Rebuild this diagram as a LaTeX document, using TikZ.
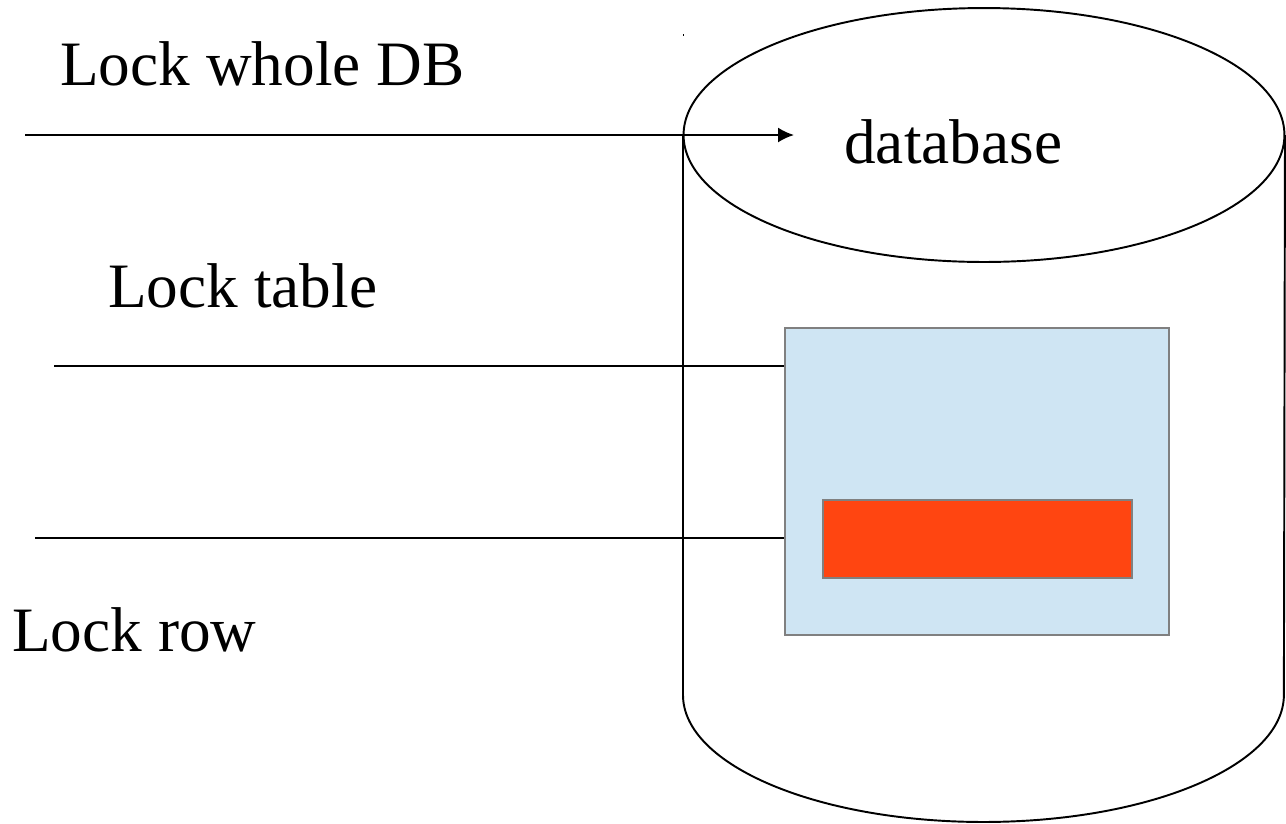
\documentclass[tikz,border=0pt]{standalone}
\usepackage{fontspec}
\setmainfont{Liberation Serif}
\usepackage{tikz}
\usetikzlibrary{positioning, arrows.meta}
\definecolor{tablefill}{RGB}{207,229,243}
\definecolor{rowfill}{RGB}{255,69,17}
\definecolor{boxline}{RGB}{128,128,128}
\tikzset{
  lbl/.style={inner sep=0pt, anchor=base west, font=\fontsize{36}{43}\selectfont},
  lockline/.style={line width=1.1pt},
  box/.style={draw=boxline, line width=0.9pt, inner sep=0pt, anchor=north west}
}

\begin{document}
\begin{tikzpicture}[x=0.02cm, y=-0.02cm]
\useasboundingbox (0,0) rectangle (1286,823);

%cylinder
\draw[line width=1.1pt] (984,135) ellipse [x radius=6.01cm, y radius=2.54cm];
\draw[line width=1.1pt] (683,135) -- (683,695)
  arc[start angle=180, end angle=360, x radius=6.01cm, y radius=2.54cm] -- (1285,135);
\fill (682.5,34) rectangle (684,36);

%table and row
\node[box, fill=tablefill, minimum width=7.68cm, minimum height=6.14cm] (tbl) at (784,327) {};
\node[box, fill=rowfill, minimum width=6.18cm, minimum height=1.56cm] (row) at (822,499) {};

%labels
\node[lbl] (whole) at (60,85) {Lock whole DB};
\node[lbl] (db) at (844,163) {database};
\node[lbl] (table) at (108,307) {Lock table};
\node[lbl] (rowlbl) at (12,651) {Lock row};

%lock lines
\coordinate (s1) at (25,135);
\coordinate (e1) at (794,135);
\coordinate (s2) at (54,366);
\coordinate (s3) at (35,538);
\draw[lockline, -{Latex[length=0.32cm, width=0.3cm]}] (s1) -- (e1);
\draw[lockline] (s2) -- (s2 -| tbl.west);
\draw[lockline] (s3) -- (s3 -| tbl.west);

\end{tikzpicture}
\end{document}
